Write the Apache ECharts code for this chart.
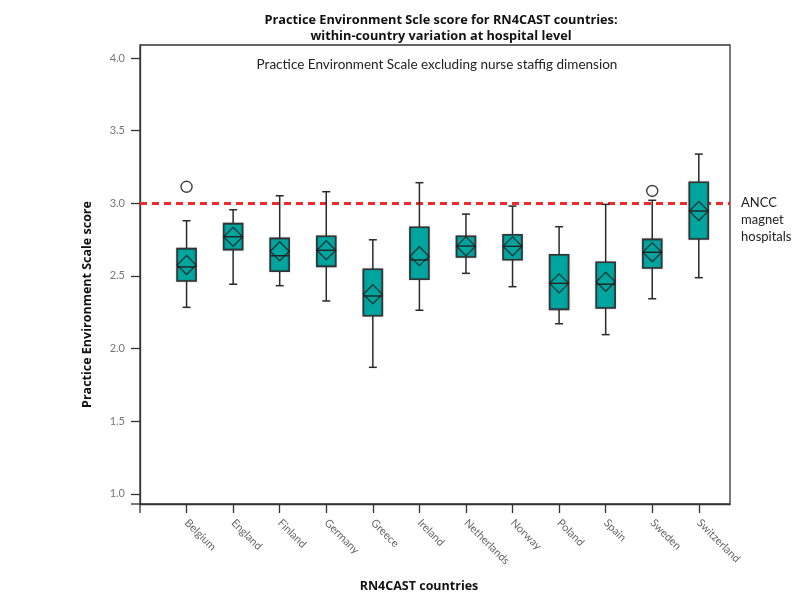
<!DOCTYPE html>
<html>
<head>
<meta charset="utf-8">
<script src="https://cdn.jsdelivr.net/npm/echarts@6/dist/echarts.min.js"></script>
<style>
html,body{margin:0;padding:0;background:#fff;}
#chart{width:795px;height:593px;}
</style>
</head>
<body>
<div id="chart"></div>
<script>
// ---- data ----
const countries = ['Belgium','England','Finland','Germany','Greece','Ireland','Netherlands','Norway','Poland','Spain','Sweden','Switzerland'];
const positions = [1,2,3,4,5,6,7,8,9,10,11,12];
const whiskerLow  = [2.284, 2.443, 2.433, 2.328, 1.871, 2.264, 2.518, 2.426, 2.171, 2.096, 2.343, 2.488];
const q1Values    = [2.465, 2.681, 2.532, 2.566, 2.226, 2.477, 2.630, 2.612, 2.270, 2.279, 2.555, 2.754];
const medians     = [2.562, 2.770, 2.639, 2.677, 2.362, 2.610, 2.706, 2.704, 2.449, 2.443, 2.663, 2.947];
const q3Values    = [2.688, 2.860, 2.759, 2.773, 2.546, 2.835, 2.773, 2.784, 2.646, 2.594, 2.752, 3.145];
const whiskerHigh = [2.880, 2.956, 3.052, 3.080, 2.749, 3.142, 2.926, 2.981, 2.839, 2.993, 3.021, 3.339];
const means       = [2.575, 2.770, 2.670, 2.677, 2.374, 2.636, 2.704, 2.704, 2.449, 2.460, 2.663, 2.947];
const outlierCountryIdx = [0, 10];
const outlierValues     = [3.114, 3.085];
const yTicks = [1.0, 1.5, 2.0, 2.5, 3.0, 3.5, 4.0];
const magnetLevel = 3.0;

const titleText = 'Practice Environment Scle score for RN4CAST countries:\nwithin-country variation at hospital level';
const subtitleText = 'Practice Environment Scale excluding nurse staffig dimension';
const yAxisTitle = 'Practice Environment Scale score';
const xAxisTitle = 'RN4CAST countries';
const magnetLabel = 'ANCC\nmagnet\nhospitals';

// ---- build series data ----
const boxData = positions.map((p, i) => [p, whiskerLow[i], q1Values[i], medians[i], q3Values[i], whiskerHigh[i]]);
const meanData = positions.map((p, i) => [p, means[i]]);
const outlierData = outlierCountryIdx.map((ci, k) => [positions[ci], outlierValues[k]]);

const FONT = 'Lato, "Open Sans", sans-serif';
const BOLDFONT = '"Open Sans", Lato, sans-serif';
const chart = echarts.init(document.getElementById('chart'), null, {renderer: 'canvas'});

const option = {
  animation: false,
  backgroundColor: '#fff',
  title: [{
    text: titleText,
    left: 436, top: 7, textAlign: 'center',
    textStyle: {fontFamily: BOLDFONT, fontSize: 12.75, fontWeight: 'bold', color: '#111', lineHeight: 16}
  }, {
    text: subtitleText,
    left: 432, top: 53, textAlign: 'center',
    textStyle: {fontFamily: FONT, fontSize: 13.5, fontWeight: 'normal', color: '#222'}
  }],
  grid: {left: 140, right: 65, top: 45, bottom: 89, show: true, borderColor: '#333', borderWidth: 1.3, backgroundColor: 'transparent'},
  xAxis: {
    type: 'value', min: 0, max: 12.67,
    axisLine: {show: true, lineStyle: {color: '#333', width: 1.3}},
    axisTick: {show: true, customValues: positions, length: 9, lineStyle: {color: '#333', width: 1.3}},
    axisLabel: {show: true, customValues: positions, rotate: -45, margin: 17,
      formatter: v => countries[Math.round(v) - 1] || '',
      color: '#666', fontFamily: FONT, fontSize: 11},
    splitLine: {show: false}
  },
  yAxis: {
    type: 'value', min: 0.93, max: 4.09,
    axisLine: {show: true, lineStyle: {color: '#333', width: 1.3}},
    axisTick: {show: true, customValues: yTicks, length: 9, lineStyle: {color: '#333', width: 1.3}},
    axisLabel: {show: true, customValues: yTicks, margin: 15,
      formatter: v => Number(v).toFixed(1),
      color: '#777', fontFamily: FONT, fontSize: 11},
    splitLine: {show: false}
  },
  series: [{
    type: 'custom',
    data: boxData,
    encode: {x: 0, y: [1, 2, 3, 4, 5]},
    renderItem: function (params, api) {
      const x = api.value(0);
      const pLow = api.coord([x, api.value(1)]);
      const pQ1 = api.coord([x, api.value(2)]);
      const pMed = api.coord([x, api.value(3)]);
      const pQ3 = api.coord([x, api.value(4)]);
      const pHigh = api.coord([x, api.value(5)]);
      const hw = 9.5, cw = 4;
      const cx = pMed[0];
      const lineStyle = {stroke: '#2a2a2a', lineWidth: 1.5};
      return {
        type: 'group',
        children: [
          {type: 'line', shape: {x1: cx, y1: pQ3[1], x2: cx, y2: pHigh[1]}, style: lineStyle},
          {type: 'line', shape: {x1: cx, y1: pQ1[1], x2: cx, y2: pLow[1]}, style: lineStyle},
          {type: 'line', shape: {x1: cx - cw, y1: pHigh[1], x2: cx + cw, y2: pHigh[1]}, style: lineStyle},
          {type: 'line', shape: {x1: cx - cw, y1: pLow[1], x2: cx + cw, y2: pLow[1]}, style: lineStyle},
          {type: 'rect', shape: {x: cx - hw, y: pQ3[1], width: hw * 2, height: pQ1[1] - pQ3[1]},
            style: {fill: '#00a59f', stroke: '#333', lineWidth: 1.6, shadowBlur: 1.5, shadowColor: 'rgba(0,0,0,0.35)'}},
          {type: 'line', shape: {x1: cx - hw, y1: pMed[1], x2: cx + hw, y2: pMed[1]}, style: {stroke: '#222', lineWidth: 1.4}}
        ]
      };
    },
    z: 2
  }, {
    type: 'scatter',
    data: meanData,
    symbol: 'diamond',
    symbolSize: [19, 19],
    itemStyle: {color: 'rgba(0,0,0,0)', borderColor: '#1e1e1e', borderWidth: 1.3},
    z: 3,
    markLine: {
      silent: true,
      symbol: ['none', 'none'],
      label: {show: false},
      lineStyle: {color: '#ee2b2b', width: 3, type: [7, 5]},
      data: [{yAxis: magnetLevel}],
      z: 1
    }
  }, {
    type: 'scatter',
    data: outlierData,
    symbol: 'circle',
    symbolSize: 11,
    itemStyle: {color: '#fff', borderColor: '#111', borderWidth: 1.4},
    z: 3
  }]
};
chart.setOption(option);

// axis-title texts and small axis extensions, placed from the axis scales
const corner = chart.convertToPixel({gridIndex: 0}, [0, 0.93]);
const topY = chart.convertToPixel({yAxisIndex: 0}, 4.09);
const rightX = chart.convertToPixel({xAxisIndex: 0}, 12.67);
const magnetY = chart.convertToPixel({yAxisIndex: 0}, magnetLevel);
chart.setOption({
  graphic: [
    {type: 'line', shape: {x1: corner[0] - 9, y1: corner[1], x2: corner[0], y2: corner[1]}, style: {stroke: '#333', lineWidth: 1.3}},
    {type: 'line', shape: {x1: corner[0], y1: corner[1], x2: corner[0], y2: corner[1] + 9}, style: {stroke: '#333', lineWidth: 1.3}},
    {type: 'text', x: 87, y: (topY + corner[1]) / 2 + 30, rotation: Math.PI / 2,
      style: {text: yAxisTitle, align: 'center', verticalAlign: 'middle', font: 'bold 12.5px ' + BOLDFONT, fill: '#111'}},
    {type: 'text', x: 419, y: 586,
      style: {text: xAxisTitle, align: 'center', verticalAlign: 'middle', font: 'bold 12.5px ' + BOLDFONT, fill: '#111'}},
    {type: 'text', x: rightX + 11, y: magnetY - 9,
      style: {text: magnetLabel, align: 'left', verticalAlign: 'top', font: '13px ' + FONT, fill: '#222', lineHeight: 17}}
  ]
});
</script>
</body>
</html>
